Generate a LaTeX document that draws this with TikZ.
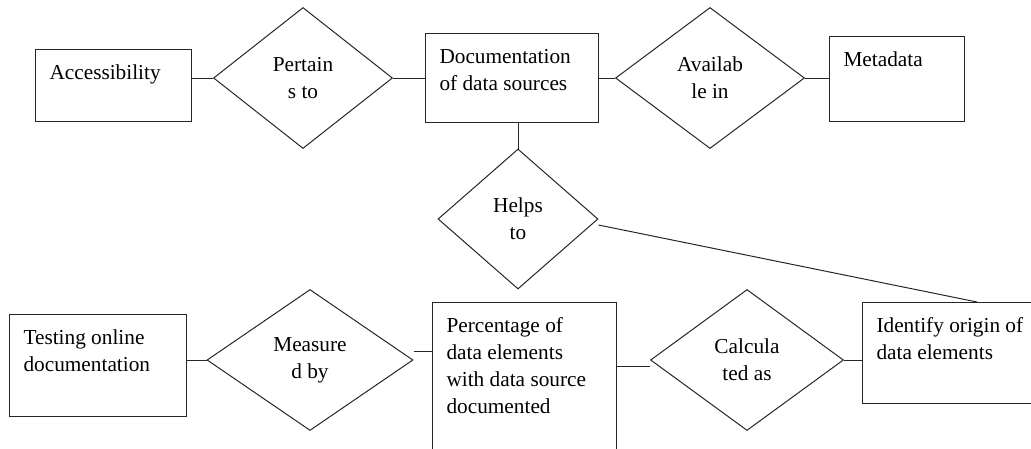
\documentclass[tikz,border=0pt]{standalone}
\usepackage{fontspec}
\setmainfont{Liberation Serif}
\usetikzlibrary{shapes.geometric}

% text block of an entity box: width, height, lines (first baseline 30pt below the top)
\newcommand\entitytext[3]{\parbox[t][#2][t]{#1}{\raggedright\rule{0pt}{30pt}#3}}
\newcommand\diagfont{\rmfamily\fontsize{21.3}{27}\selectfont}

\begin{document}
\begin{tikzpicture}[x=1pt,y=-1pt,
  entity/.style={draw=black!85, anchor=north west, inner xsep=14pt, inner ysep=0pt,
                 line width=1pt, font=\diagfont},
  relation/.style={draw=black!85, diamond, inner sep=0pt, align=center,
                   line width=1pt, font=\diagfont},
  link/.style={draw=black!85, line width=1pt}]
\useasboundingbox (0,0) rectangle (1031,448);

% entities
\node[entity] (acc)  at (35,49)   {\entitytext{128pt}{72pt}{Accessibility}};
\node[entity] (doc)  at (425,33)  {\entitytext{145pt}{89pt}{Documentation\\of data sources}};
\node[entity] (meta) at (829,36)  {\entitytext{107pt}{85pt}{Metadata}};
\node[entity] (test) at (9,314)   {\entitytext{149pt}{102pt}{Testing online\\documentation}};
\node[entity] (pct)  at (432,302) {\entitytext{156pt}{150pt}{Percentage of\\data elements\\with data source\\documented}};
\node[entity] (iden) at (862,302) {\entitytext{157pt}{101pt}{Identify origin of\\data elements}};

% relationships
\node[relation, minimum width=179pt, minimum height=141pt] (pert)  at (303,78)  {Pertain\\s to};
\node[relation, minimum width=189pt, minimum height=141pt] (avail) at (710,78)  {Availab\\le in};
\node[relation, minimum width=160pt, minimum height=140pt] (helps) at (518,219) {Helps\\to};
\node[relation, minimum width=206pt, minimum height=141pt] (meas)  at (310,360) {Measure\\d by};
\node[relation, minimum width=193pt, minimum height=141pt] (calc)  at (747,360) {Calcula\\ted as};

% connector end points
\coordinate (helpsOut) at ([yshift=-6pt]helps.east);
\coordinate (idenIn)   at ([xshift=115pt]iden.north west);
\coordinate (measOut)  at ([yshift=9pt]meas.east);
\coordinate (calcIn)   at ([yshift=-6pt]calc.west);

% connectors
\draw[link] (pert.west)  -- (pert.west -| acc.east);
\draw[link] (pert.east)  -- (pert.east -| doc.west);
\draw[link] (avail.west) -- (avail.west -| doc.east);
\draw[link] (avail.east) -- (avail.east -| meta.west);
\draw[link] (helps.north) -- (helps.north |- doc.south);
\draw[link] (helpsOut) -- (idenIn);
\draw[link] (meas.west) -- (meas.west -| test.east);
\draw[link] (measOut) -- (measOut -| pct.west);
\draw[link] (calcIn) -- (calcIn -| pct.east);
\draw[link] (calc.east) -- (calc.east -| iden.west);
\end{tikzpicture}
\end{document}
